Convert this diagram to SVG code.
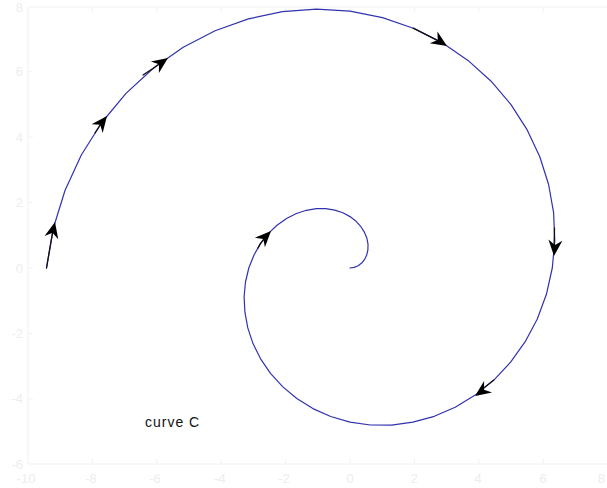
<svg xmlns="http://www.w3.org/2000/svg" width="607" height="488" viewBox="0 0 607 488">
<style>
.ax{fill:none;stroke:#f1f1f1;stroke-width:1}
.tl{font-family:"Liberation Sans",Arial,sans-serif;font-size:13px;fill:#ededed}
.curve{fill:none;stroke:#3232b0;stroke-width:1.2;stroke-linejoin:round;stroke-linecap:round}
.shaft{fill:none;stroke:#111;stroke-width:1.3;stroke-linecap:round}
.head{fill:#000}
.lbl{font-family:"Liberation Sans",Arial,sans-serif;font-size:14px;fill:#111;letter-spacing:1px}
</style>
<defs>
<path id="ah" d="M0,0 L-16,-7 L-11,0 L-16,7 Z"/>
</defs>
<rect width="607" height="488" fill="#fff"/>
<g id="axes">
<path class="ax" d="M28,464 L28,7 L608,7 M28,464 L608,464"/>
<path class="ax" d="M28,398.8h5M28,333.4h5M28,268h5M28,202.6h5M28,137.2h5M28,71.8h5M92.4,464v-5M156.8,464v-5M221.2,464v-5M285.6,464v-5M350,464v-5M414.4,464v-5M478.8,464v-5M543.2,464v-5M92.4,7v5M156.8,7v5M221.2,7v5M285.6,7v5M350,7v5M414.4,7v5M478.8,7v5M543.2,7v5"/>
<g class="tl" text-anchor="end">
<text x="23" y="12">8</text>
<text x="23" y="76">6</text>
<text x="23" y="142">4</text>
<text x="23" y="207">2</text>
<text x="23" y="273">0</text>
<text x="23" y="338">-2</text>
<text x="23" y="403">-4</text>
<text x="23" y="469">-6</text>
</g>
<g class="tl" text-anchor="middle">
<text x="26" y="483">-10</text>
<text x="91" y="483">-8</text>
<text x="155" y="483">-6</text>
<text x="220" y="483">-4</text>
<text x="284" y="483">-2</text>
<text x="350" y="483">0</text>
<text x="414" y="483">2</text>
<text x="478" y="483">4</text>
<text x="543" y="483">6</text>
<text x="605" y="483" text-anchor="end">8</text>
</g>
</g>
<g id="curve">
<polyline class="curve" points="350,268 354.2,267.4 358.1,265.8 361.7,263.1 364.6,259.4 366.7,255 367.9,249.8 368,244.2 366.9,238.3 364.5,232.4 360.9,226.7 356.1,221.3 350,216.6 342.9,212.8 334.7,210.1 325.8,208.7 316.3,208.7 306.4,210.3 296.4,213.5 286.5,218.5 277,225.2 268.2,233.6 260.4,243.6 253.9,255.2 248.8,268 245.5,282 244.1,296.8 244.9,312.2 247.8,327.9 253,343.6 260.6,358.8 270.5,373.3 282.6,386.6 296.8,398.5 312.9,408.6 330.7,416.5 350,422.1 370.4,425 391.5,425.1 412.9,422.2 434.3,416.3 455.2,407.2 475.2,395.1 493.8,380.1 510.6,362.2 525.2,341.7 537.3,319 546.4,294.3 552.3,268 554.8,240.6 553.6,212.6 548.6,184.5 539.8,156.7 527.2,129.9 511,104.6 491.1,81.2 468,60.4 441.9,42.6 413.3,28.2 382.5,17.6 350,11.2 316.4,9.1 282.4,11.7 248.4,18.9 215.1,30.8 183.2,47.3 153.3,68.2 126,93.4 101.8,122.5 81.3,155 65,190.5 53.3,228.3 46.5,268"/>
</g>
<g id="arrows">
<polyline class="shaft" points="46.5,268 53.3,228.3 54,226"/>
<polyline class="shaft" points="95,133 101.8,122.5 105,118.5"/>
<polyline class="shaft" points="143,75 153.3,68.2 164,60.5"/>
<polyline class="shaft" points="413.3,28.2 441.9,42.6 444,44"/>
<polyline class="shaft" points="554.5,228 554,250"/>
<polyline class="shaft" points="493.8,380.1 480,391"/>
<polyline class="shaft" points="258,248 260.4,243.6 268.2,233.6"/>
<use href="#ah" class="head" transform="translate(55,222) rotate(-77)"/>
<use href="#ah" class="head" transform="translate(107,116) rotate(-52)"/>
<use href="#ah" class="head" transform="translate(168,58) rotate(-35)"/>
<use href="#ah" class="head" transform="translate(447,46) rotate(33)"/>
<use href="#ah" class="head" transform="translate(554,256) rotate(95)"/>
<use href="#ah" class="head" transform="translate(475,396) rotate(145)"/>
<use href="#ah" class="head" transform="translate(271,231) rotate(-46)"/>
</g>
<text class="lbl" x="145" y="427">curve C</text>
</svg>
